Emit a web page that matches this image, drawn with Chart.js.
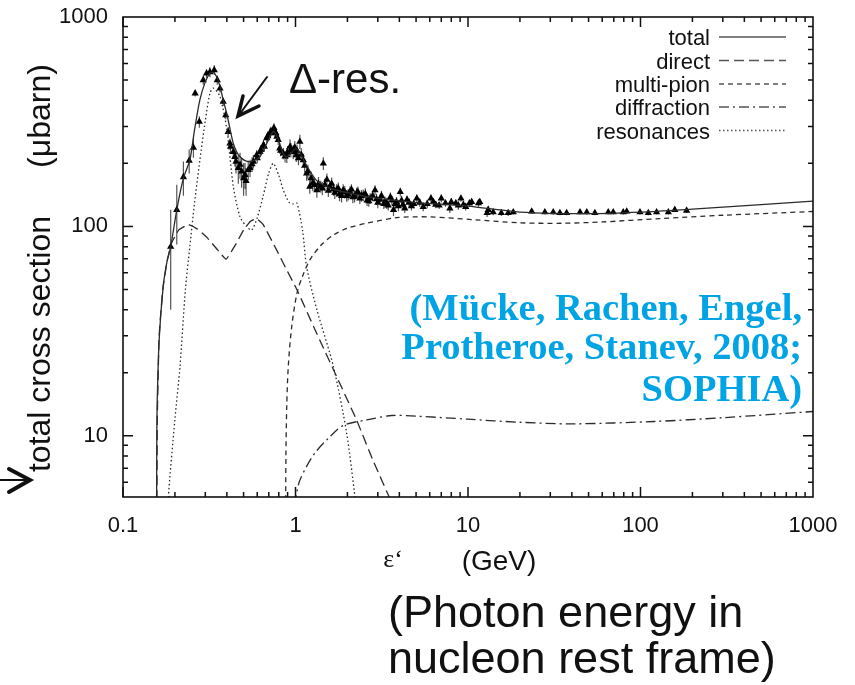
<!DOCTYPE html>
<html lang="en">
<head>
  <meta charset="UTF-8" />
  <title>Photo-pion cross section</title>
  <script src="https://cdn.jsdelivr.net/npm/chart.js"></script>
  <style>
    body { margin: 0; background: white; }
    #wrap { width: 855px; height: 685px; }
  </style>
</head>
<body>
  <div id="wrap"><canvas id="chart" width="855" height="685"></canvas></div>

  <script>
    // axis ticks
    const xTickVals = [0.1, 1, 10, 100, 1000];
    const xTickText = ['0.1', '1', '10', '100', '1000'];
    const yTickVals = [10, 100, 1000];
    const yTickText = ['10', '100', '1000'];

    // model curves (energy in GeV, cross section in microbarn)
    const totalE = [0.1565, 0.157, 0.158, 0.162, 0.171, 0.18, 0.189, 0.205, 0.224, 0.244, 0.26, 0.279, 0.3, 0.319, 0.334, 0.35, 0.365, 0.38, 0.399, 0.418, 0.436, 0.455, 0.477, 0.51, 0.545, 0.58, 0.622, 0.681, 0.744, 0.78, 0.82, 0.85, 0.89, 0.95, 1.0, 1.06, 1.16, 1.33, 1.6, 2.07, 3, 5, 10, 20, 50, 100, 200, 500, 1000];
    const totalS = [3, 10, 15, 28.7, 51.6, 68, 80, 120, 170, 207, 290, 402, 490, 538, 545, 515, 465, 405, 347, 290, 249, 228, 215, 206, 204, 207, 215, 249, 285, 270, 240, 222, 215, 225, 235, 225, 195, 165, 152, 144, 136, 130, 125, 117, 115, 117, 121, 127, 132];

    const directE = [0.157, 0.158, 0.162, 0.17, 0.18, 0.191, 0.21, 0.239, 0.27, 0.305, 0.35, 0.396, 0.45, 0.5, 0.55, 0.596, 0.65, 0.778, 0.88, 1.02, 1.3, 1.73, 2.26, 2.8, 3.53, 4];
    const directS = [3, 12, 30, 50, 68, 83, 96, 102, 97, 89, 78, 69.7, 82, 96, 106, 109, 102, 77, 63, 49.8, 32, 19.2, 11.9, 7.7, 5, 4];

    const multiE = [0.875, 0.88, 0.89, 0.908, 0.95, 1.02, 1.1, 1.21, 1.4, 1.66, 2.0, 2.59, 3.86, 6, 11, 20, 35, 60, 130, 300, 1000];
    const multiS = [3, 8, 14, 21.4, 33, 48, 58, 69, 81, 91, 98, 103.6, 110, 111, 107.5, 104, 103.5, 105, 109, 113, 117.8];

    const diffE = [1.0, 1.007, 1.05, 1.16, 1.3, 1.52, 1.89, 2.59, 3.62, 5, 10, 20, 40, 120, 300, 1000];
    const diffS = [3, 5, 6, 7.14, 8.3, 9.57, 11.2, 11.9, 12.5, 12.4, 12, 11.6, 11.4, 11.7, 12.2, 13.06];

    const resE = [0.181, 0.183, 0.2, 0.214, 0.23, 0.244, 0.26, 0.279, 0.3, 0.319, 0.334, 0.365, 0.4, 0.436, 0.477, 0.52, 0.557, 0.6, 0.65, 0.7, 0.744, 0.8, 0.85, 0.92, 0.97, 1.02, 1.1, 1.16, 1.33, 1.66, 1.98, 2.22, 2.4];
    const resS = [3, 5, 12, 21.4, 50, 80, 130, 207, 320, 432, 457, 417, 290, 155, 111, 100, 96, 110, 140, 180, 200, 175, 149, 130, 128, 129, 95, 64, 40, 21.4, 10.3, 5, 3];

    // measured points
    const dataE = [0.189, 0.205, 0.224, 0.242, 0.256, 0.262, 0.277, 0.292, 0.305, 0.319, 0.338, 0.352, 0.365, 0.381, 0.394, 0.407, 0.417, 0.42, 0.436, 0.445, 0.452, 0.466, 0.477, 0.487, 0.5, 0.51, 0.517, 0.532, 0.545, 0.56, 0.57, 0.595, 0.6, 0.622, 0.63, 0.652, 0.66, 0.681, 0.69, 0.711, 0.72, 0.744, 0.75, 0.76, 0.77, 0.78, 0.794, 0.81, 0.82, 0.85, 0.87, 0.89, 0.9, 0.93, 0.94, 0.97, 0.99, 1.01, 1.02, 1.04, 1.06, 1.08, 1.11, 1.13, 1.16, 1.18, 1.21, 1.23, 1.26, 1.29, 1.33, 1.36, 1.40, 1.43, 1.45, 1.48, 1.52, 1.55, 1.58, 1.62, 1.66, 1.69, 1.73, 1.77, 1.8, 1.85, 1.89, 1.93, 1.98, 2.02, 2.07, 2.11, 2.15, 2.2, 2.26, 2.3, 2.36, 2.41, 2.47, 2.54, 2.6, 2.66, 2.71, 2.8, 2.89, 2.95, 3.0, 3.09, 3.15, 3.25, 3.3, 3.38, 3.45, 3.55, 3.62, 3.7, 3.78, 3.85, 3.95, 4.05, 4.12, 4.2, 4.3, 4.43, 4.55, 4.7, 4.85, 5.05, 5.25, 5.5, 5.8, 6.1, 6.3, 6.5, 6.8, 7.0, 7.4, 7.85, 8.0, 8.5, 8.8, 9.1, 9.4, 9.7, 10.2, 10.5, 11.5, 11.7, 12.9, 13.1, 14.0, 15.6, 17.1, 18.3, 23.4, 27.9, 31.2, 34.1, 37.3, 44.6, 48.8, 54.4, 65.0, 69.5, 79.4, 83.2, 99.3, 111, 124, 145, 158, 185];
    const dataS = [80, 120, 172, 206, 238, 432, 316, 500, 538, 546, 558, 500, 456, 394, 340, 283, 249, 240, 227, 215, 204, 190, 197, 183, 170, 176, 165, 186, 190, 198, 204, 219, 212, 227, 232, 245, 240, 264, 270, 279, 284, 289, 295, 283, 279, 268, 259, 236, 230, 223, 216, 219, 226, 240, 232, 227, 238, 219, 230, 212, 254, 220, 207, 195, 179, 183, 155, 170, 161, 158, 149, 160, 155, 152, 200, 158, 167, 148, 155, 160, 150, 145, 149, 152, 142, 140, 149, 146, 140, 142, 146, 150, 138, 139, 144, 146, 136, 140, 141, 143, 133, 132, 136, 140, 149, 135, 130, 134, 140, 128, 131, 129, 126, 138, 133, 120, 128, 131, 125, 146, 133, 127, 122, 134, 130, 125, 128, 136, 130, 124, 128, 136, 131, 127, 126, 136, 129, 122, 131, 129, 126, 136, 127, 124, 129, 131, 129, 131, 116, 120, 117, 116, 116, 117, 118, 117, 117, 116, 116, 117, 117, 116, 117, 117, 117, 118, 117, 116, 117, 117, 120, 119];
    const dataErr = [40, 38, 32, 27, 25, 15, 20, 25, 25, 30, 30, 25, 20, 18, 15, 15, 14, 16, 15, 22, 25, 30, 28, 30, 30, 25, 25, 20, 18, 16, 15, 12, 12, 12, 12, 14, 13, 14, 14, 15, 15, 16, 16, 15, 15, 15, 15, 14, 14, 14, 14, 18, 16, 20, 18, 18, 18, 16, 16, 16, 20, 16, 15, 14, 14, 14, 12, 13, 14, 12, 12, 12, 10, 11, 14, 11, 12, 10, 10, 11, 10, 10, 10, 10, 10, 10, 10, 10, 9, 9, 9, 9, 9, 9, 9, 9, 8, 9, 9, 9, 8, 8, 8, 8, 8, 8, 8, 8, 8, 7, 8, 8, 7, 7, 7, 8, 7, 7, 7, 7, 7, 6, 6, 6, 6, 6, 6, 6, 6, 6, 6, 6, 5, 5, 5, 6, 5, 6, 5, 5, 6, 5, 5, 5, 5, 5, 5, 5, 5, 5, 4, 4, 4, 3, 3, 3, 3, 3, 3, 3, 3, 3, 3, 3, 3, 3, 3, 3, 3, 3, 3, 3, 3];

    const legendNames = ['total', 'direct', 'multi-pion', 'diffraction', 'resonances'];
    const lineDashes = [[], [10, 5], [5, 4], [10, 4, 2, 4], [1.5, 2.5]];

    const pairs = (xs, ys) => xs.map((x, i) => ({ x: x, y: ys[i] }));
    const lineColor = '#2b2b2b';

    function curve(label, xs, ys, dash, tension) {
      return {
        type: 'line', label: label, data: pairs(xs, ys),
        borderColor: lineColor, borderWidth: 1.3, borderDash: dash,
        pointRadius: 0, tension: tension, fill: false
      };
    }

    // inward ticks on all four sides + frame
    const frame = {
      id: 'frame',
      afterDraw(chart) {
        const { ctx, chartArea: a, scales } = chart;
        const xs = scales.x, ys = scales.y;
        ctx.save();
        ctx.strokeStyle = '#111';
        ctx.lineWidth = 1.5;
        ctx.beginPath();
        for (let d = 0.1; d < 1000; d *= 10) {
          for (let m = 1; m < 10; m++) {
            const v = d * m;
            const px = xs.getPixelForValue(v);
            const len = m === 1 ? 10 : 5;
            ctx.moveTo(px, a.bottom); ctx.lineTo(px, a.bottom - len);
            ctx.moveTo(px, a.top); ctx.lineTo(px, a.top + len);
          }
        }
        for (let d = 1; d < 1000; d *= 10) {
          for (let m = 1; m < 10; m++) {
            const v = d * m;
            if (v < ys.min) continue;
            const py = ys.getPixelForValue(v);
            const len = m === 1 ? 10 : 5;
            ctx.moveTo(a.left, py); ctx.lineTo(a.left + len, py);
            ctx.moveTo(a.right, py); ctx.lineTo(a.right - len, py);
          }
        }
        ctx.stroke();
        ctx.lineWidth = 1.6;
        ctx.strokeRect(a.left, a.top, a.right - a.left, a.bottom - a.top);
        ctx.restore();
      }
    };

    // vertical error bars for the data points
    const errorBars = {
      id: 'errorBars',
      beforeDatasetsDraw(chart) {
        const { ctx, chartArea: a, scales } = chart;
        ctx.save();
        ctx.beginPath();
        ctx.rect(a.left, a.top, a.right - a.left, a.bottom - a.top);
        ctx.clip();
        ctx.strokeStyle = '#555';
        ctx.lineWidth = 1.2;
        ctx.beginPath();
        dataE.forEach((e, i) => {
          const px = scales.x.getPixelForValue(e);
          ctx.moveTo(px, scales.y.getPixelForValue(dataS[i] + dataErr[i]));
          ctx.lineTo(px, scales.y.getPixelForValue(Math.max(dataS[i] - dataErr[i], 1)));
        });
        ctx.stroke();
        ctx.restore();
      }
    };

    // legend, labels and annotations
    const texts = {
      id: 'texts',
      afterDraw(chart) {
        const { ctx } = chart;
        ctx.save();

        // legend (text left of sample line)
        ctx.font = '22px "Liberation Sans", Arial, sans-serif';
        ctx.textAlign = 'right';
        ctx.textBaseline = 'alphabetic';
        ctx.fillStyle = '#111';
        const base = [45, 68.5, 92, 115, 138.5];
        legendNames.forEach((n, i) => {
          ctx.fillText(n, 710, base[i]);
          ctx.beginPath();
          ctx.setLineDash(lineDashes[i]);
          ctx.strokeStyle = '#555';
          ctx.lineWidth = 1.3;
          ctx.moveTo(719, base[i] - 8);
          ctx.lineTo(786, base[i] - 8);
          ctx.stroke();
        });
        ctx.setLineDash([]);

        // y title
        ctx.font = '32px "Liberation Sans", Arial, sans-serif';
        ctx.textAlign = 'center';
        ctx.save();
        ctx.translate(50, 344);
        ctx.rotate(-Math.PI / 2);
        ctx.fillText('total cross section', 0, 0);
        ctx.restore();
        ctx.save();
        ctx.translate(50, 116);
        ctx.rotate(-Math.PI / 2);
        ctx.fillText('(\u03bcbarn)', 0, 0);
        ctx.restore();

        // x title
        ctx.font = '26px "Liberation Serif", serif';
        ctx.textAlign = 'center';
        ctx.fillText('\u03b5\u2018', 393, 567);
        ctx.font = '28px "Liberation Sans", Arial, sans-serif';
        ctx.fillText('(GeV)', 499, 570);

        // explanatory text below
        ctx.font = '45px "Liberation Sans", Arial, sans-serif';
        ctx.textAlign = 'left';
        ctx.fillText('(Photon energy in', 388, 627);
        ctx.fillText('nucleon rest frame)', 388, 673);

        // citation
        ctx.font = 'bold 38.5px "Liberation Serif", "Times New Roman", serif';
        ctx.fillStyle = '#00a3e4';
        ctx.textAlign = 'right';
        ctx.fillText('(M\u00fccke, Rachen, Engel,', 802, 320);
        ctx.fillText('Protheroe, Stanev, 2008;', 802, 359);
        ctx.fillText('SOPHIA)', 802, 401);

        // Delta resonance label with arrow
        ctx.fillStyle = '#111';
        ctx.font = '42px "Liberation Sans", Arial, sans-serif';
        ctx.textAlign = 'left';
        ctx.fillText('\u0394-res.', 289, 93);
        ctx.strokeStyle = '#111';
        ctx.lineCap = 'round';
        ctx.lineWidth = 2;
        ctx.beginPath();
        ctx.moveTo(267, 77); ctx.lineTo(239, 115);
        ctx.stroke();
        ctx.lineWidth = 3.5;
        ctx.beginPath();
        ctx.moveTo(243, 96); ctx.lineTo(238, 116); ctx.lineTo(259, 106);
        ctx.stroke();

        // arrow at left edge pointing to the threshold
        ctx.lineWidth = 2;
        ctx.beginPath();
        ctx.moveTo(0, 480); ctx.lineTo(29, 480);
        ctx.stroke();
        ctx.lineWidth = 4;
        ctx.beginPath();
        ctx.moveTo(9, 469); ctx.lineTo(30, 480); ctx.lineTo(9, 492);
        ctx.stroke();
        ctx.restore();
      }
    };

    new Chart(document.getElementById('chart'), {
      data: {
        datasets: [
          curve('total', totalE, totalS, lineDashes[0], 0.25),
          curve('direct', directE, directS, lineDashes[1], 0.1),
          curve('multi-pion', multiE, multiS, lineDashes[2], 0.3),
          curve('diffraction', diffE, diffS, lineDashes[3], 0.3),
          curve('resonances', resE, resS, lineDashes[4], 0.25),
          {
            type: 'scatter', label: 'data', data: pairs(dataE, dataS),
            pointStyle: 'triangle', pointRadius: 4.2, pointBorderWidth: 0,
            backgroundColor: '#000', borderColor: '#000'
          }
        ]
      },
      options: {
        responsive: false,
        animation: false,
        layout: { padding: { left: 0, top: 17, right: 42, bottom: 0 } },
        plugins: { legend: { display: false }, tooltip: { enabled: false } },
        scales: {
          x: {
            type: 'logarithmic', min: 0.1, max: 1000,
            grid: { display: false, drawTicks: false }, border: { display: false },
            afterBuildTicks: s => { s.ticks = xTickVals.map(v => ({ value: v })); },
            afterFit: s => { s.height = 188; s.paddingLeft = 0; s.paddingRight = 0; },
            ticks: {
              autoSkip: false, maxRotation: 0, padding: 16, color: '#111',
              font: { size: 22, family: '"Liberation Sans", Arial, sans-serif' },
              callback: v => xTickText[xTickVals.indexOf(v)]
            }
          },
          y: {
            type: 'logarithmic', min: 5.1, max: 1000,
            grid: { display: false, drawTicks: false }, border: { display: false },
            afterBuildTicks: s => { s.ticks = yTickVals.map(v => ({ value: v })); },
            afterFit: s => { s.width = 123; s.paddingTop = 0; s.paddingBottom = 0; },
            ticks: {
              autoSkip: false, padding: 15, color: '#111',
              font: { size: 22, family: '"Liberation Sans", Arial, sans-serif' },
              callback: v => yTickText[yTickVals.indexOf(v)]
            }
          }
        }
      },
      plugins: [frame, errorBars, texts]
    });
  </script>
</body>
</html>
